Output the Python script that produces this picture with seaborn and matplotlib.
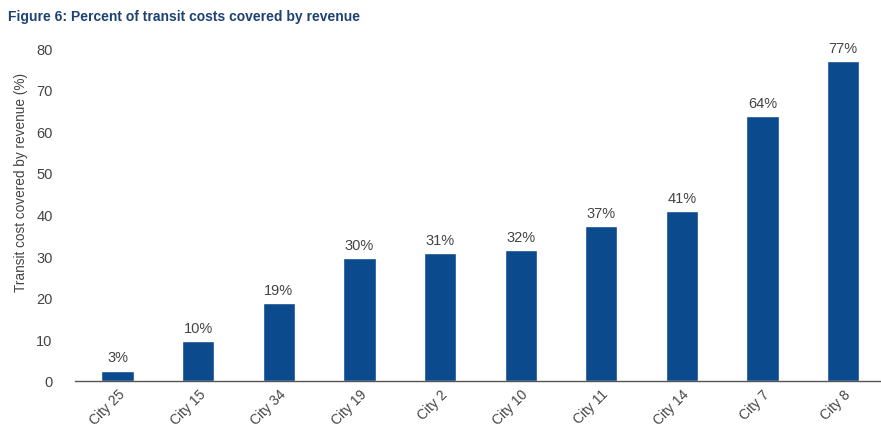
import matplotlib
matplotlib.use("Agg")
import matplotlib.pyplot as plt
import seaborn as sns
import pandas as pd

cities = ["City 25", "City 15", "City 34", "City 19", "City 2", "City 10",
          "City 11", "City 14", "City 7", "City 8"]
values = [2.5, 9.6, 18.7, 29.6, 30.8, 31.4, 37.2, 40.9, 63.6, 76.9]
labels = ["3%", "10%", "19%", "30%", "31%", "32%", "37%", "41%", "64%", "77%"]
yticks = [0, 10, 20, 30, 40, 50, 60, 70, 80]

sns.set_theme(style="white")
plt.rcParams['font.family'] = ['Liberation Sans', 'DejaVu Sans']

df = pd.DataFrame({"city": cities, "value": values})

fig = plt.figure(figsize=(8.81, 4.35), dpi=100)
ax = fig.add_axes([0.085, 0.122, 0.915, 0.765])
bar_color = "#0c4a8e"
sns.barplot(data=df, x="city", y="value", color=bar_color, width=0.4,
            saturation=1, ax=ax)

for i, (v, lab) in enumerate(zip(values, labels)):
    ax.text(i, v + 1.5, lab, ha="center", va="bottom", fontsize=10.5,
            color="#444444", clip_on=False)

ax.set_ylim(0, 80)
ax.set_xlim(-0.53, 9.47)
ax.set_yticks(yticks)
ax.set_yticklabels([str(t) for t in yticks], fontsize=10.5, color="#444444")
ax.tick_params(axis="y", length=0, pad=16)
ax.tick_params(axis="x", length=0, pad=4)
ax.set_xticks(range(len(cities)))
ax.set_xticklabels(cities, rotation=45, ha="right", rotation_mode="anchor",
                   fontsize=10, color="#444444")
ax.set_xlabel("")
ax.set_ylabel("Transit cost covered by revenue (%)", fontsize=9.8,
              color="#444444")
ax.yaxis.set_label_coords(-0.058, 0.60)
for s in ["left", "right", "top"]:
    ax.spines[s].set_visible(False)
ax.spines["bottom"].set_color("#555555")
ax.spines["bottom"].set_linewidth(1.0)

fig.text(0.009, 0.96, "Figure 6: Percent of transit costs covered by revenue",
         fontsize=10, fontweight="bold", color="#1d4273", ha="left", va="center")

fig.savefig("out.png", dpi=100, facecolor="white")
